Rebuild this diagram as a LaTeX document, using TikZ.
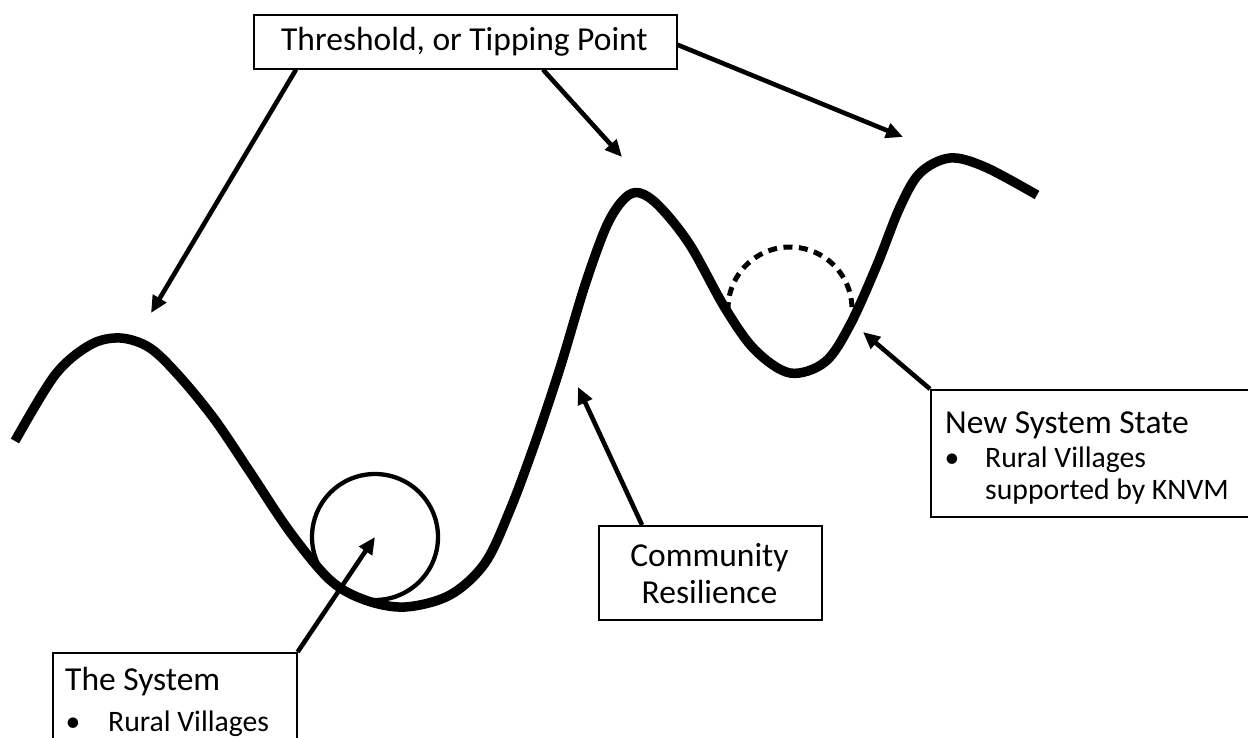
\documentclass[tikz,border=0pt]{standalone}
\usepackage{fontspec}
\setmainfont{Carlito}
\usetikzlibrary{arrows.meta}
\begin{document}
\begin{tikzpicture}[x=1pt,y=-1pt,
  box/.style={draw, line width=1.6pt, inner sep=0pt, anchor=north west},
  big/.style={inner sep=0pt, font=\fontsize{33.5}{40}\selectfont},
  small/.style={inner sep=0pt, font=\fontsize{29.7}{36}\selectfont},
  arr/.style={line width=4.6pt, -{Triangle[length=17pt,width=15pt]}},
  land/.style={line width=9.5pt, line join=round},
]
\useasboundingbox (0,0) rectangle (1248,738);
\fill[white] (0,0) rectangle (1248,738);

% the system ball and the new state ball
\node[draw, circle, line width=4.3pt, minimum size=126pt, inner sep=0pt] (ball) at (375,537) {};
\draw[line width=5pt, dash pattern=on 9pt off 6.5pt] (790,309) ++(178:62) arc[start angle=178, end angle=362, radius=62];

% landscape
\draw[land] plot[smooth, tension=0.55] coordinates {
 (15,441) (55,375) (90,345) (120,338) (150,348) (180,377) (215,420) (250,472)
 (290,532) (330,580) (365,600) (405,607) (450,595) (485,563) (510,510) (535,443)
 (560,368) (585,285) (607,225) (625,198) (640,193) (660,207) (690,245) (725,308)
 (755,350) (790,373) (825,362) (850,325) (877,265) (900,207) (920,173) (950,158)
 (985,167) (1037,195)};

% boxes
\node[box, minimum width=423pt, minimum height=54pt] (title) at (253,14) {};
\node[big, anchor=base] (titletext) at (464.5,51) {Threshold, or Tipping Point};

\node[box, minimum width=244pt, minimum height=120pt] (sys) at (52,652) {};
\node[big, anchor=base west] (systext) at (65,690) {The System};
\node[small, anchor=base] (sysb) at (73,731) {•};
\node[small, anchor=base west] (sysv) at (108,731) {Rural Villages};

\node[box, minimum width=330pt, minimum height=127pt] (news) at (930,389) {};
\node[big, anchor=base west] (newt) at (945,433) {New System State};
\node[small, anchor=base] (newb) at (952,467) {•};
\node[small, anchor=base west] (newv1) at (985,467) {Rural Villages};
\node[small, anchor=base west] (newv2) at (985,499) {supported by KNVM};

\node[box, minimum width=223pt, minimum height=94pt] (comm) at (598,525) {};
\node[big, anchor=base] (c1) at (709.5,566) {Community};
\node[big, anchor=base] (c2) at (709.5,603) {Resilience};

% arrow targets
\coordinate (tL) at (151,313);
\coordinate (tM) at (622,157);
\coordinate (tR) at (903,137);
\coordinate (tC) at (578,387);
\coordinate (tN) at (863,332);

\draw[arr] ([xshift=43pt]title.south west) -- (tL);
\draw[arr] ([xshift=290pt]title.south west) -- (tM);
\draw[arr] ([yshift=-3pt]title.east) -- (tR);
\draw[arr] ([xshift=44pt]comm.north west) -- (tC);
\draw[arr] (news.north west) -- (tN);
\draw[arr] (sys.north east) -- (ball.center);
\end{tikzpicture}
\end{document}
